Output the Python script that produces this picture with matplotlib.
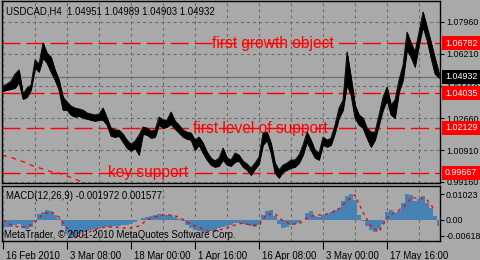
import numpy as np
import matplotlib
matplotlib.use("Agg")
import matplotlib.pyplot as plt
import matplotlib.transforms as mtransforms

plt.rcParams["font.family"] = ["Liberation Sans", "DejaVu Sans"]
plt.rcParams["lines.scale_dashes"] = False

##### Data
### USDCAD H4, high / low sampled every 4 bars
high = [1.0443, 1.0454, 1.0470, 1.0509, 1.0531, 1.0399, 1.0432, 1.0448, 1.0586, 1.0564,
        1.0679, 1.0624, 1.0602, 1.0531, 1.0476, 1.0382, 1.0355, 1.0333, 1.0322, 1.0317,
        1.0311, 1.0295, 1.0289, 1.0284, 1.0289, 1.0322, 1.0267, 1.0212, 1.0201, 1.0201,
        1.0179, 1.0146, 1.0124, 1.0141, 1.0174, 1.0218, 1.0212, 1.0196, 1.0201, 1.0273,
        1.0256, 1.0256, 1.0300, 1.0251, 1.0229, 1.0201, 1.0190, 1.0185, 1.0146, 1.0163,
        1.0130, 1.0081, 1.0048, 1.0031, 1.0048, 1.0102, 1.0048, 1.0037, 1.0075, 1.0064,
        1.0031, 1.0015, 0.9993, 1.0020, 1.0053, 1.0185, 1.0190, 1.0130, 1.0020, 0.9982,
        1.0009, 1.0020, 1.0037, 1.0037, 1.0064, 1.0119, 1.0190, 1.0146, 1.0091, 1.0075,
        1.0163, 1.0146, 1.0157, 1.0229, 1.0322, 1.0366, 1.0630, 1.0492, 1.0339, 1.0284,
        1.0267, 1.0212, 1.0190, 1.0190, 1.0284, 1.0382, 1.0437, 1.0339, 1.0366, 1.0476,
        1.0558, 1.0739, 1.0679, 1.0630, 1.0739, 1.0849, 1.0767, 1.0684, 1.0597, 1.0514]
low = [1.0415, 1.0421, 1.0426, 1.0432, 1.0465, 1.0371, 1.0382, 1.0421, 1.0542, 1.0520,
       1.0597, 1.0569, 1.0520, 1.0476, 1.0421, 1.0311, 1.0311, 1.0284, 1.0273, 1.0278,
       1.0267, 1.0262, 1.0256, 1.0251, 1.0256, 1.0256, 1.0229, 1.0168, 1.0163, 1.0168,
       1.0135, 1.0102, 1.0086, 1.0102, 1.0064, 1.0179, 1.0174, 1.0157, 1.0163, 1.0229,
       1.0212, 1.0218, 1.0234, 1.0207, 1.0185, 1.0163, 1.0152, 1.0146, 1.0091, 1.0119,
       1.0075, 1.0037, 1.0009, 0.9998, 1.0004, 1.0037, 1.0009, 1.0004, 1.0026, 1.0031,
       0.9998, 0.9982, 0.9954, 0.9987, 1.0015, 1.0119, 1.0146, 1.0075, 0.9965, 0.9938,
       0.9971, 0.9982, 0.9993, 0.9998, 1.0020, 1.0064, 1.0135, 1.0091, 1.0048, 1.0037,
       1.0119, 1.0108, 1.0119, 1.0185, 1.0267, 1.0311, 1.0448, 1.0393, 1.0267, 1.0229,
       1.0212, 1.0157, 1.0108, 1.0146, 1.0229, 1.0311, 1.0366, 1.0284, 1.0267, 1.0410,
       1.0476, 1.0641, 1.0602, 1.0547, 1.0668, 1.0767, 1.0695, 1.0597, 1.0509, 1.0487]

### dashed red trend in lower left
trend_pos = [0, 8, 16, 25, 31, 41, 50, 56, 65, 75, 80]
trend_val = [1.0064, 1.0053, 1.0037, 1.0020, 1.0004, 0.9987, 0.9971, 0.9965, 0.9949, 0.9927, 0.9916]

### MACD(12,26,9)
macd_hist = [-0.0028, -0.0028, -0.0028, -0.0020, -0.0016, -0.0032, -0.0036, -0.0028, -0.0008, 0.0024,
             0.0032, 0.0040, 0.0036, 0.0020, 0.0004, -0.0024, -0.0056, -0.0072, -0.0068, -0.0056,
             -0.0048, -0.0044, -0.0040, -0.0036, -0.0032, -0.0028, -0.0028, -0.0028, -0.0024, -0.0024,
             -0.0020, -0.0020, -0.0016, -0.0008, 0.0, 0.0008, 0.0012, 0.0016, 0.0020, 0.0024,
             0.0024, 0.0020, 0.0020, 0.0012, 0.0004, -0.0004, -0.0020, -0.0032, -0.0040, -0.0044,
             -0.0048, -0.0048, -0.0044, -0.0040, -0.0032, -0.0028, -0.0024, -0.0020, -0.0012, -0.0012,
             -0.0016, -0.0020, -0.0024, -0.0028, -0.0020, 0.0020, 0.0036, 0.0040, 0.0016, -0.0016,
             -0.0032, -0.0028, -0.0020, -0.0016, -0.0012, 0.0, 0.0028, 0.0036, 0.0016, 0.0012,
             0.0020, 0.0024, 0.0032, 0.0040, 0.0048, 0.0076, 0.0096, 0.0104, 0.0080, 0.0020,
             -0.0004, -0.0024, -0.0040, -0.0048, -0.0036, -0.0016, 0.0032, 0.0040, 0.0028, 0.0036,
             0.0068, 0.0102, 0.0100, 0.0076, 0.0084, 0.0096, 0.0068, 0.0048, 0.0016, -0.0024]
macd_signal = [0.0, -0.0020, -0.0028, -0.0028, -0.0008, 0.0024, 0.0032, 0.0012, -0.0032, -0.0064,
               -0.0064, -0.0044, -0.0032, -0.0028, -0.0028, -0.0032, -0.0032, -0.0024, 0.0, 0.0012,
               0.0020, 0.0020, 0.0012, -0.0008, -0.0024, -0.0036, -0.0048, -0.0040, -0.0032, -0.0020,
               -0.0012, -0.0020, -0.0020, 0.0024, 0.0024, -0.0004, -0.0016, -0.0016, 0.0008, 0.0020,
               0.0020, 0.0028, 0.0044, 0.0076, 0.0100, 0.0030, -0.0024, -0.0048, 0.0008, 0.0032,
               0.0048, 0.0088, 0.0088, 0.0080, 0.0040]

### levels
levels = [1.06782, 1.04035, 1.02129, 0.99667]
level_names = ["first growth object", "first level of support", "key support"]
level_text_pos = [210, 191, 106]
level_text_base = [1.0651, 1.0185, 0.9943]
last_price = 1.04932

price_ticks = [1.07960, 1.06210, 1.04410, 1.02660, 1.00910, 0.99160]
macd_ticks = [0.01023, 0.0, -0.00618]
macd_tick_labels = ["0.01023", "0.00", "-0.00618"]
date_labels = ["16 Feb 2010", "3 Mar 08:00", "18 Mar 00:00", "1 Apr 16:00",
               "16 Apr 08:00", "3 May 00:00", "17 May 16:00"]

title_txt = "USDCAD,H4  1.04951 1.04989 1.04903 1.04932"
macd_txt = "MACD(12,26,9) -0.001972 0.001577"
copy_txt = "MetaTrader, \u00a9 2001-2010 MetaQuotes Software Corp."

##### Style
bg = "#a9a9a9"
grid_col = "#6b6b6b"
red = "#ff0000"
fs = 6.4
fs_txt = 6.9

W, H = 480, 260
fig = plt.figure(figsize=(W / 100, H / 100), dpi=100, facecolor=bg)

ax1 = fig.add_axes([2 / W, 1 - 183 / H, 438 / W, 182 / H], facecolor=bg)
ax2 = fig.add_axes([2 / W, 1 - 241 / H, 438 / W, 55 / H], facecolor=bg)

bar_pos = np.arange(len(high)) * 4 + 1
sig_pos = np.arange(len(macd_signal)) * 8 + 1
grid_pos = np.arange(14) * 32 + 1

### Price panel
ax1.fill_between(bar_pos, low, high, color="black", lw=0.5, zorder=3)
ax1.plot(bar_pos, high, color="black", lw=0.6, zorder=3)
ax1.plot(bar_pos, low, color="black", lw=0.6, zorder=3)
ax1.plot(trend_pos, trend_val, color=red, lw=0.9, dashes=(3.5, 3.5), zorder=2)
ax1.axhline(last_price, color="#707070", lw=0.9, zorder=1)
for lv in levels:
    ax1.axhline(lv, color=red, lw=1.0, dashes=(13, 4.3), zorder=2)
for name, xp, yb in zip(level_names, level_text_pos, level_text_base):
    ax1.text(xp, yb, name, color=red, fontsize=11.2, va="baseline", ha="left", zorder=4)

ax1.set_xlim(0, 438)
ax1.set_ylim(0.99103, 1.09095)
ax1.yaxis.tick_right()
ax1.set_yticks(price_ticks)
ax1.set_yticklabels([f"{t:.5f}" for t in price_ticks])
ax1.tick_params(axis="y", length=3, width=0.8, pad=1.5, labelsize=fs, colors="black")
ax1.set_xticks(grid_pos)
ax1.tick_params(axis="x", length=0, labelbottom=False)
ax1.grid(True, color=grid_col, lw=0.8, dashes=(2.2, 2.2))
for s in ax1.spines.values():
    s.set_color("black")
    s.set_linewidth(1.0)

# value boxes on the price scale
for lv in levels:
    ax1.annotate(f"{lv:.5f}", xy=(1, lv), xycoords=("axes fraction", "data"),
                 xytext=(3.5, 0), textcoords="offset points", va="center", ha="left",
                 color="white", fontsize=fs, zorder=6, annotation_clip=False,
                 bbox=dict(boxstyle="square,pad=0.3", fc=red, ec="none"))
ax1.annotate(f"{last_price:.5f}", xy=(1, last_price), xycoords=("axes fraction", "data"),
             xytext=(3.5, 0), textcoords="offset points", va="center", ha="left",
             color="white", fontsize=fs, zorder=6, annotation_clip=False,
             bbox=dict(boxstyle="square,pad=0.3", fc="black", ec="none"))

fig.text(6 / W, 1 - 11 / H, title_txt, fontsize=fs_txt, va="center", ha="left")

### MACD panel
ax2.fill_between(bar_pos, 0, macd_hist, step="mid", color="#4682b4", lw=0, zorder=2)
ax2.plot(sig_pos, macd_signal, color=red, lw=1.0, dashes=(2.2, 2.8), zorder=3)
ax2.set_xlim(0, 438)
ax2.set_ylim(-0.00836, 0.01353)
ax2.yaxis.tick_right()
ax2.set_yticks(macd_ticks)
ax2.set_yticklabels(macd_tick_labels)
ax2.tick_params(axis="y", length=3, width=0.8, pad=1, labelsize=fs)
ax2.set_xticks(grid_pos[::2])
ax2.set_xticklabels(date_labels)
ax2.set_xticks(grid_pos[1::2], minor=True)
ax2.tick_params(axis="x", which="major", length=6, width=0.8, pad=1, labelsize=fs_txt)
ax2.tick_params(axis="x", which="minor", length=0)
ax2.grid(True, axis="x", which="both", color=grid_col, lw=0.8, dashes=(2.2, 2.2))
shift = mtransforms.ScaledTranslation(2 / 72, 0, fig.dpi_scale_trans)
for lab in ax2.get_xticklabels():
    lab.set_ha("left")
    lab.set_transform(lab.get_transform() + shift)
for s in ax2.spines.values():
    s.set_color("black")
    s.set_linewidth(1.0)

fig.text(6 / W, 1 - 196 / H, macd_txt, fontsize=fs_txt, va="center", ha="left")
fig.text(4 / W, 1 - 235 / H, copy_txt, fontsize=fs_txt, va="center", ha="left")

fig.savefig("out.png", dpi=100, facecolor=bg)
